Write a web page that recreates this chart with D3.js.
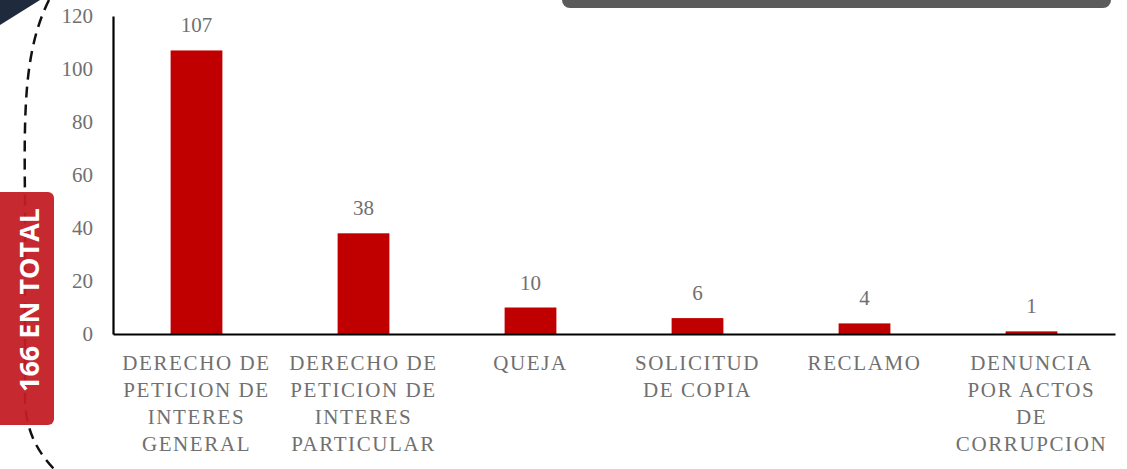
<!DOCTYPE html>
<html>
<head>
<meta charset="utf-8">
<script src="https://cdn.jsdelivr.net/npm/d3@7"></script>
<style>
  body { margin: 0; background: #fff; }
  svg { display: block; }
  .serif { font-family: "Liberation Serif", "DejaVu Serif", serif; }
</style>
</head>
<body>
<div id="vis"></div>
<script>
const FRAME_WIDTH = 1127;
const FRAME_HEIGHT = 469;
const MARGINS = {left: 113, right: 12, top: 16, bottom: 135};

// data
const categories = ["DERECHO DE PETICION DE INTERES GENERAL", "DERECHO DE PETICION DE INTERES PARTICULAR",
  "QUEJA", "SOLICITUD DE COPIA", "RECLAMO", "DENUNCIA POR ACTOS DE CORRUPCION"];
const labelLines = [["DERECHO DE", "PETICION DE", "INTERES", "GENERAL"],
  ["DERECHO DE", "PETICION DE", "INTERES", "PARTICULAR"],
  ["QUEJA"], ["SOLICITUD", "DE COPIA"], ["RECLAMO"],
  ["DENUNCIA", "POR ACTOS", "DE", "CORRUPCION"]];
const values = [107, 38, 10, 6, 4, 1];
const yTicks = [0, 20, 40, 60, 80, 100, 120];
const totalText = "166 EN TOTAL";

const FRAME = d3.select("#vis")
  .append("svg")
  .attr("width", FRAME_WIDTH)
  .attr("height", FRAME_HEIGHT);

const X_SCALE = d3.scaleBand()
  .domain(categories)
  .range([MARGINS.left, FRAME_WIDTH - MARGINS.right])
  .paddingInner(0.69)
  .paddingOuter(0.345);

const Y_SCALE = d3.scaleLinear()
  .domain([0, 120])
  .range([FRAME_HEIGHT - MARGINS.bottom, MARGINS.top]);

// decorations
FRAME.append("polygon")
  .attr("points", "0,0 40,0 0,25")
  .attr("fill", "#1f2a3d");

FRAME.append("rect")
  .attr("x", 562).attr("y", -20)
  .attr("width", 549).attr("height", 28)
  .attr("rx", 8)
  .attr("fill", "#5b5b5b");

FRAME.append("path")
  .attr("d", "M 49,0 C 24,50 24,110 25,200 L 25,400 C 26,432 38,452 54,469")
  .attr("fill", "none")
  .attr("stroke", "#111")
  .attr("stroke-width", 2.5)
  .attr("stroke-dasharray", "11,7");

FRAME.append("rect")
  .attr("x", -6).attr("y", 192)
  .attr("width", 60).attr("height", 233)
  .attr("rx", 6)
  .attr("fill", "#c41e25")
  .attr("opacity", 0.95);

FRAME.append("text")
  .attr("transform", "translate(28,300) rotate(-90)")
  .attr("text-anchor", "middle")
  .attr("dominant-baseline", "central")
  .style("font-family", "'Open Sans', sans-serif")
  .style("font-weight", "bold")
  .style("font-size", "27px")
  .attr("fill", "#fff")
  .text(totalText);

// bars
FRAME.selectAll(".bar")
  .data(values)
  .enter()
  .append("rect")
  .attr("class", "bar")
  .attr("x", (d, i) => X_SCALE(categories[i]))
  .attr("y", (d) => Y_SCALE(d))
  .attr("width", X_SCALE.bandwidth())
  .attr("height", (d) => Y_SCALE(0) - Y_SCALE(d))
  .attr("fill", "#c00000");

// value labels
FRAME.selectAll(".val")
  .data(values)
  .enter()
  .append("text")
  .attr("class", "val serif")
  .attr("x", (d, i) => X_SCALE(categories[i]) + X_SCALE.bandwidth() / 2)
  .attr("y", (d) => Y_SCALE(d) - 18)
  .attr("text-anchor", "middle")
  .style("font-size", "21px")
  .attr("fill", "#707070")
  .text((d) => d);

// y axis
const yAxis = FRAME.append("g")
  .attr("transform", "translate(" + MARGINS.left + ",0)")
  .attr("font-family", null)
  .call(d3.axisLeft(Y_SCALE).tickValues(yTicks).tickSize(0).tickPadding(20));
yAxis.attr("font-family", null);
yAxis.select(".domain").attr("stroke", "#000").attr("stroke-width", 2.2);
yAxis.selectAll("text")
  .attr("class", "serif")
  .style("font-size", "21px")
  .attr("fill", "#707070");

// x axis
const xAxis = FRAME.append("g")
  .attr("transform", "translate(0," + Y_SCALE(0) + ")")
  .call(d3.axisBottom(X_SCALE).tickSize(0).tickFormat(""));
xAxis.attr("font-family", null);
xAxis.select(".domain").attr("stroke", "#000").attr("stroke-width", 2.2);

xAxis.selectAll(".tick").each(function(d, i) {
  const t = d3.select(this).append("text")
    .attr("class", "serif")
    .attr("text-anchor", "middle")
    .style("font-size", "21px")
    .style("letter-spacing", "1.6px")
    .attr("fill", "#707070");
  labelLines[i].forEach((line, j) => {
    t.append("tspan")
      .attr("x", 0)
      .attr("y", 36 + j * 27)
      .text(line);
  });
});
</script>
</body>
</html>
